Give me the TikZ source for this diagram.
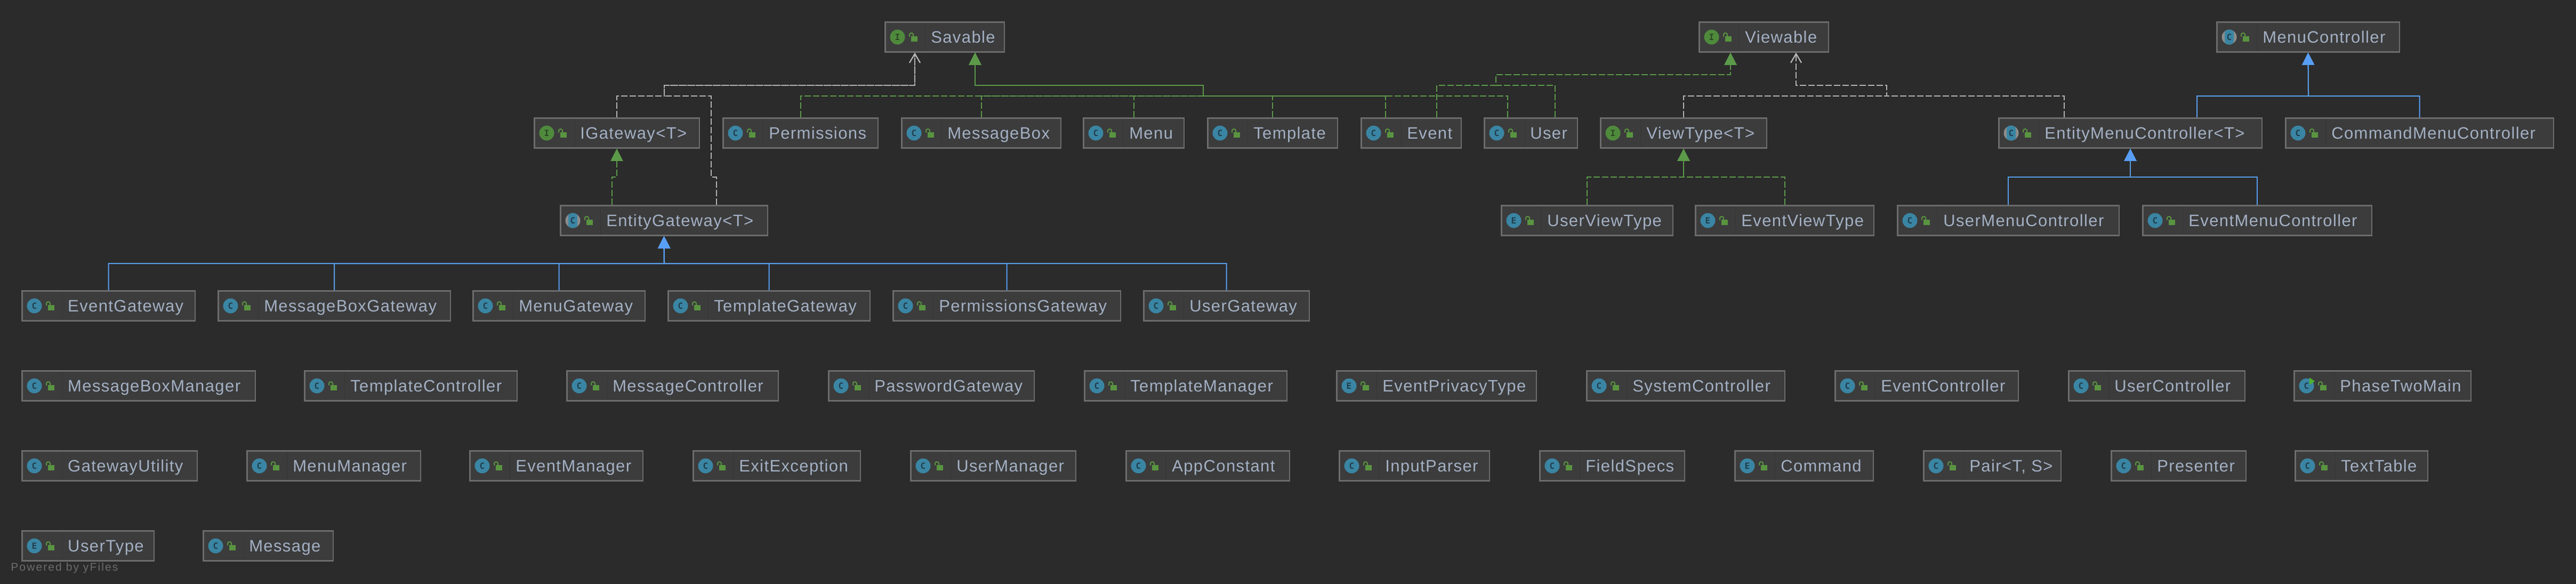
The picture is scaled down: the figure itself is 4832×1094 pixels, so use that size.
\documentclass[tikz,border=0pt]{standalone}
\usepackage{fontspec}
\setmainfont{Liberation Sans}[LetterSpace=4.5]
\newfontfamily\iconfont{DejaVu Sans Mono}
\newfontfamily\markfont{Liberation Sans}[LetterSpace=10]
\usetikzlibrary{
    calc,
    arrows.meta
}

\definecolor{bgdark}{HTML}{2B2B2B}
\definecolor{boxfill}{HTML}{3C3C3C}
\definecolor{boxline}{HTML}{6C6C6C}
\definecolor{boxrule}{HTML}{353535}
\definecolor{labelblue}{HTML}{A3B0C4}
\definecolor{classteal}{HTML}{3A85A3}
\definecolor{classletter}{HTML}{213E4D}
\definecolor{ifacegreen}{HTML}{4F8A3C}
\definecolor{ifaceletter}{HTML}{2C4724}
\definecolor{abstractgrey}{HTML}{8C8C8C}
\definecolor{lockgreen}{HTML}{599440}
\definecolor{rungreen}{HTML}{4FB02F}
\definecolor{edgegreen}{HTML}{5C9A4A}
\definecolor{edgewhite}{HTML}{B4B4B4}
\definecolor{edgeblue}{HTML}{589EF5}
\definecolor{markgrey}{HTML}{6C6C6C}

\tikzset{
    classnode/.style={draw=boxline, fill=boxfill, line width=1.25pt, inner sep=0pt, align=left,
        text=labelblue, text height=19.5pt, text depth=8.5pt, font=\fontsize{15.5}{18}\selectfont},
    iconbase/.style={circle, inner sep=0pt, minimum size=14pt, font=\iconfont\bfseries\fontsize{8}{8}\selectfont},
    classicon/.style={iconbase, fill=classteal, text=classletter, node contents={C}},
    enumicon/.style={iconbase, fill=classteal, text=classletter, node contents={E}},
    ifaceicon/.style={iconbase, fill=ifacegreen, text=ifaceletter, node contents={I}},
    abstracticon/.style={iconbase, fill=abstractgrey, text=classletter, node contents={C},
        path picture={\fill[classteal, rounded corners=3pt] (path picture bounding box.center) ++(-8.5,-14) rectangle ++(17,28);}},
    impledge/.style={edgegreen, line width=1pt, dash pattern=on 6pt off 2pt, -{Triangle[length=11.5pt,width=11.5pt]}},
    depedge/.style={edgewhite, line width=1pt, dash pattern=on 6pt off 2pt, -{Straight Barb[length=8.5pt,width=10pt]}},
    extedge/.style={edgeblue, line width=1pt, -{Triangle[length=11.5pt,width=11.5pt]}}
}

% icon style, name, left, right, centre y, label
\newcommand{\classbox}[6]{
    \node[classnode, text width={(#4-#3-2.5)*0.5pt}] (#2) at ({(#3+#4)/2},#5) {\hspace*{43pt}\mbox{#6}};
    \begin{scope}[shift={(#2.west)}]
        \draw[boxrule, line width=.75pt] (76.5,-26) -- (76.5,26);
        \node (#2-icon) at (24.5,0) [#1];
        \draw[lockgreen, line width=1pt, rounded corners=1.5pt] (47,-1) -- (47,-7.5) -- (54,-7.5) -- (54,-1.5);
        \fill[lockgreen] (50,-1.5) rectangle (62,8.5);
    \end{scope}
}

\begin{document}
\begin{tikzpicture}[x=0.5pt, y=-0.5pt]
    \useasboundingbox (0,0) rectangle (4832,1094);
    \fill[bgdark] (-10,-10) rectangle (4842,1104);

    % first two rows
    \classbox{ifaceicon}{savable}{1659}{1885}{69.5}{Savable}
    \classbox{ifaceicon}{viewable}{3186}{3431}{69.5}{Viewable}
    \classbox{abstracticon}{menucontroller}{4157}{4502}{69.5}{MenuController}
    \classbox{ifaceicon}{igateway}{1001}{1313}{249.5}{IGateway<T>}
    \classbox{classicon}{permissions}{1355}{1648}{249.5}{Permissions}
    \classbox{classicon}{messagebox}{1690}{1991}{249.5}{MessageBox}
    \classbox{classicon}{menu}{2031}{2222}{249.5}{Menu}
    \classbox{classicon}{template}{2264}{2510}{249.5}{Template}
    \classbox{classicon}{event}{2552}{2742}{249.5}{Event}
    \classbox{classicon}{user}{2783}{2960}{249.5}{User}
    \classbox{ifaceicon}{viewtype}{3001}{3315}{249.5}{ViewType<T>}
    \classbox{abstracticon}{entitymenu}{3748}{4244}{249.5}{EntityMenuController<T>}
    \classbox{classicon}{commandmenu}{4286}{4791}{249.5}{CommandMenuController}

    % third and fourth rows
    \classbox{abstracticon}{entitygateway}{1050}{1441}{413.5}{EntityGateway<T>}
    \classbox{enumicon}{userviewtype}{2815}{3139}{413.5}{UserViewType}
    \classbox{enumicon}{eventviewtype}{3179}{3516}{413.5}{EventViewType}
    \classbox{classicon}{usermenu}{3558}{3976}{413.5}{UserMenuController}
    \classbox{classicon}{eventmenu}{4018}{4450}{413.5}{EventMenuController}
    \classbox{classicon}{eventgateway}{40}{367}{573.5}{EventGateway}
    \classbox{classicon}{messageboxgateway}{408}{846}{573.5}{MessageBoxGateway}
    \classbox{classicon}{menugateway}{886}{1211}{573.5}{MenuGateway}
    \classbox{classicon}{templategateway}{1252}{1633}{573.5}{TemplateGateway}
    \classbox{classicon}{permissionsgateway}{1674}{2103}{573.5}{PermissionsGateway}
    \classbox{classicon}{usergateway}{2144}{2457}{573.5}{UserGateway}

    % loose classes
    \classbox{classicon}{messageboxmanager}{40}{480}{723.5}{MessageBoxManager}
    \classbox{classicon}{templatecontroller}{570}{971}{723.5}{TemplateController}
    \classbox{classicon}{messagecontroller}{1062}{1461}{723.5}{MessageController}
    \classbox{classicon}{passwordgateway}{1553}{1941}{723.5}{PasswordGateway}
    \classbox{classicon}{templatemanager}{2033}{2415}{723.5}{TemplateManager}
    \classbox{enumicon}{eventprivacytype}{2506}{2883}{723.5}{EventPrivacyType}
    \classbox{classicon}{systemcontroller}{2975}{3349}{723.5}{SystemController}
    \classbox{classicon}{eventcontroller}{3441}{3787}{723.5}{EventController}
    \classbox{classicon}{usercontroller}{3879}{4212}{723.5}{UserController}
    \classbox{classicon}{phasetwomain}{4302}{4636}{723.5}{PhaseTwoMain}
    \fill[rungreen] ($(phasetwomain.west)+(30,-15.5)$) -- ($(phasetwomain.west)+(30,-2)$) -- ($(phasetwomain.west)+(40,-8.75)$) -- cycle;

    \classbox{classicon}{gatewayutility}{40}{371}{873.5}{GatewayUtility}
    \classbox{classicon}{menumanager}{462}{790}{873.5}{MenuManager}
    \classbox{classicon}{eventmanager}{880}{1207}{873.5}{EventManager}
    \classbox{classicon}{exitexception}{1299}{1615}{873.5}{ExitException}
    \classbox{classicon}{usermanager}{1707}{2019}{873.5}{UserManager}
    \classbox{classicon}{appconstant}{2111}{2420}{873.5}{AppConstant}
    \classbox{classicon}{inputparser}{2511}{2795}{873.5}{InputParser}
    \classbox{classicon}{fieldspecs}{2887}{3161}{873.5}{FieldSpecs}
    \classbox{enumicon}{command}{3253}{3515}{873.5}{Command}
    \classbox{classicon}{pair}{3607}{3867}{873.5}{Pair<T, S>}
    \classbox{classicon}{presenter}{3959}{4214}{873.5}{Presenter}
    \classbox{classicon}{texttable}{4304}{4555}{873.5}{TextTable}

    \classbox{enumicon}{usertype}{40}{290}{1023.5}{UserType}
    \classbox{classicon}{message}{380}{626}{1023.5}{Message}

    \node[text=markgrey, anchor=base west, inner sep=0pt, font=\markfont\fontsize{10.5}{12}\selectfont] (yfilesmark) at (20,1070) {Powered by yFiles};

    % bends shared by the connectors
    \coordinate (gwlow) at (1246,180);
    \coordinate (gwhigh) at (1246,160);
    \coordinate (gwjogl) at (1157,332);
    \coordinate (gwjogr) at (1334,332);
    \coordinate (gwbus) at (1246,494);
    \coordinate (savelow) at (2257,180);
    \coordinate (savehigh) at (2257,160);
    \coordinate (greenlow) at (2806,160);
    \coordinate (greenhigh) at (2806,140);
    \coordinate (whitelow) at (3539,180);
    \coordinate (whitehigh) at (3539,160);
    \coordinate (menubus) at (4330,180);
    \coordinate (viewbus) at (3158,332);
    \coordinate (entitybus) at (3996,332);

    \draw[depedge] (igateway.north) |- (gwlow) -- (gwhigh) -| ([xshift=-28pt]savable.south);
    \draw[depedge] ([xshift=49pt]entitygateway.north) |- (gwjogr) |- (gwlow) -- (gwhigh) -| ([xshift=-28pt]savable.south);
    \draw[impledge] ([xshift=-49pt]entitygateway.north) |- (gwjogl) -- (igateway.south);

    \draw[impledge] (permissions.north) |- (savelow) -- (savehigh) -| ([xshift=28.5pt]savable.south);
    \draw[impledge] (messagebox.north) |- (savelow) -- (savehigh) -| ([xshift=28.5pt]savable.south);
    \draw[impledge] (menu.north) |- (savelow) -- (savehigh) -| ([xshift=28.5pt]savable.south);
    \draw[impledge] (template.north) |- (savelow) -- (savehigh) -| ([xshift=28.5pt]savable.south);
    \draw[impledge] ([xshift=-24pt]event.north) |- (savelow) -- (savehigh) -| ([xshift=28.5pt]savable.south);
    \draw[impledge] ([xshift=-21.75pt]user.north) |- (savelow) -- (savehigh) -| ([xshift=28.5pt]savable.south);

    \draw[impledge] ([xshift=24pt]event.north) |- (greenlow) -- (greenhigh) -| ([xshift=-31.25pt]viewable.south);
    \draw[impledge] ([xshift=22.75pt]user.north) |- (greenlow) -- (greenhigh) -| ([xshift=-31.25pt]viewable.south);

    \draw[depedge] (viewtype.north) |- (whitelow) -- (whitehigh) -| ([xshift=30.25pt]viewable.south);
    \draw[depedge] ([xshift=-62pt]entitymenu.north) |- (whitelow) -- (whitehigh) -| ([xshift=30.25pt]viewable.south);

    \draw[extedge] ([xshift=62.5pt]entitymenu.north) |- (menubus) -- (menucontroller.south);
    \draw[extedge] (commandmenu.north) |- (menubus) -- (menucontroller.south);

    \draw[impledge] (userviewtype.north) |- (viewbus) -- (viewtype.south);
    \draw[impledge] (eventviewtype.north) |- (viewbus) -- (viewtype.south);

    \draw[extedge] (usermenu.north) |- (entitybus) -- (entitymenu.south);
    \draw[extedge] (eventmenu.north) |- (entitybus) -- (entitymenu.south);

    \draw[extedge] (eventgateway.north) |- (gwbus) -- (entitygateway.south);
    \draw[extedge] (messageboxgateway.north) |- (gwbus) -- (entitygateway.south);
    \draw[extedge] (menugateway.north) |- (gwbus) -- (entitygateway.south);
    \draw[extedge] (templategateway.north) |- (gwbus) -- (entitygateway.south);
    \draw[extedge] (permissionsgateway.north) |- (gwbus) -- (entitygateway.south);
    \draw[extedge] (usergateway.north) |- (gwbus) -- (entitygateway.south);
\end{tikzpicture}
\end{document}
